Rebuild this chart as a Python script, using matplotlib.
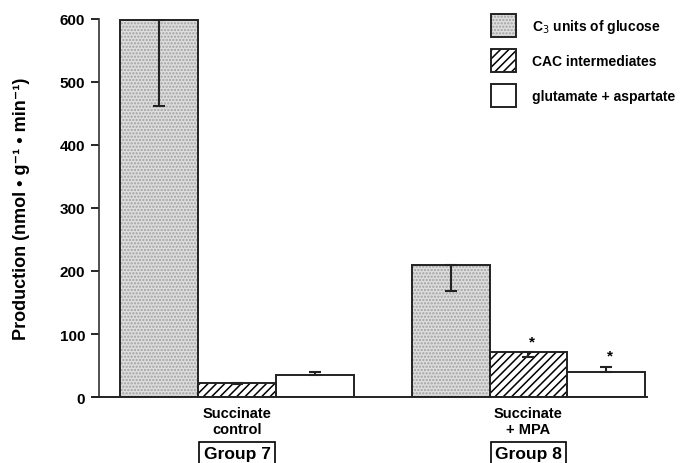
import matplotlib
matplotlib.use('Agg')
import matplotlib.pyplot as plt
from matplotlib.patches import Patch
from matplotlib.legend_handler import HandlerTuple
import numpy as np

plt.rcParams['font.family'] = ['Liberation Sans', 'DejaVu Sans']
plt.rcParams['hatch.linewidth'] = 1.1

# data
groups = ['Succinate\ncontrol', 'Succinate\n+ MPA']
group_names = ['Group 7', 'Group 8']
series = ['C$_3$ units of glucose', 'CAC intermediates', 'glutamate + aspartate']

glucose = [598, 210]
glucose_err_low = [136, 42]
glucose_err_up = [0, 0]

cac = [23, 71]
cac_err_low = [3, 8]
cac_err_up = [0, 0]

glu_asp = [35, 40]
glu_asp_err_low = [0, 0]
glu_asp_err_up = [5, 8]

# significance marks: (series index, group index)
stars = [(1, 1), (2, 1)]

# plot
fig = plt.figure(figsize=(6.81, 4.64), dpi=100)
ax = fig.add_axes([0.1454, 0.1422, 0.8046, 0.8148])

centers = np.array([0.0, 3.74])
width = 1.0
values = [glucose, cac, glu_asp]
err_low = [glucose_err_low, cac_err_low, glu_asp_err_low]
err_up = [glucose_err_up, cac_err_up, glu_asp_err_up]
faces = ['#dedede', 'white', 'white']
hatches = ['.....', '////', None]
hatch_cols = ['#a0a0a0', 'black', 'black']

for i in range(3):
    xs = centers + (i - 1) * width
    ax.bar(xs, values[i], width, color=faces[i], edgecolor=hatch_cols[i],
           hatch=hatches[i], linewidth=0, zorder=2)
    ax.bar(xs, values[i], width, fill=False, edgecolor='#222222', linewidth=1.4, zorder=3)
    ax.errorbar(xs, values[i], yerr=[err_low[i], err_up[i]], fmt='none',
                ecolor='#222222', elinewidth=1.5, capsize=4, capthick=1.5, zorder=4)

for s, g in stars:
    x = centers[g] + (s - 1) * width + 0.05
    y = values[s][g] + err_up[s][g]
    ax.annotate('*', (x, y), xytext=(0, 3), textcoords='offset points',
                ha='center', va='bottom', fontsize=11, fontweight='bold')

ax.set_xlim(-1.77, 5.26)
ax.set_ylim(0, 600)
ax.set_yticks([0, 100, 200, 300, 400, 500, 600])
ax.tick_params(axis='y', direction='out', length=6, width=1.2, labelsize=11, pad=4)
for lab in ax.get_yticklabels():
    lab.set_fontweight('bold')
ax.set_xticks([])
ax.spines['top'].set_visible(False)
ax.spines['right'].set_visible(False)
ax.spines['left'].set_linewidth(1.2)
ax.spines['bottom'].set_linewidth(1.4)
ax.spines['bottom'].set_bounds(-1.85, 5.26)
ax.spines['left'].set_color('#333333')
ax.spines['bottom'].set_color('#222222')

ax.set_ylabel('Production (nmol \u2022 g\u207b\u00b9 \u2022 min\u207b\u00b9)',
              fontsize=13, fontweight='bold', labelpad=21)

for c, lab, gname in zip(centers, groups, group_names):
    ax.text(c, -15, lab, ha='center', va='top', fontsize=10.5, fontweight='bold',
            linespacing=1.15)
    ax.text(c, -90, gname, ha='center', va='center', fontsize=12.5, fontweight='bold',
            bbox=dict(boxstyle='square,pad=0.25', facecolor='white', edgecolor='black', linewidth=1.2))

# legend: hatched fill plus dark outline on top
handles = [(Patch(facecolor=faces[i], edgecolor=hatch_cols[i], hatch=hatches[i], linewidth=0),
            Patch(fill=False, edgecolor='#222222', linewidth=1.4))
           for i in range(3)]
leg = ax.legend(handles, series, loc='upper left', bbox_to_anchor=(491 / 681, 1 - 15 / 464),
                bbox_transform=fig.transFigure, borderpad=0, borderaxespad=0,
                frameon=False, handlelength=1.8, handleheight=2.2, labelspacing=0.85,
                handletextpad=1.15, prop={'weight': 'bold', 'size': 10},
                handler_map={tuple: HandlerTuple(ndivide=1, pad=0)})

fig.savefig('out.png', dpi=100)
